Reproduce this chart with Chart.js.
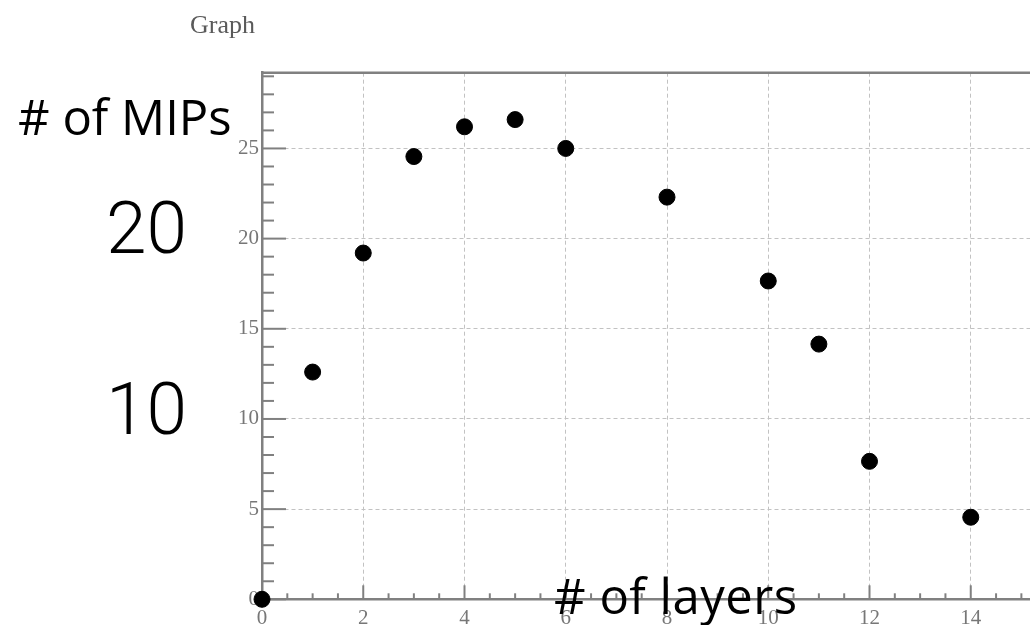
<!DOCTYPE html>
<html>
<head>
<meta charset="utf-8">
<script src="https://cdn.jsdelivr.net/npm/chart.js@4.4.0/dist/chart.umd.js"></script>
<style>
    html, body { margin: 0; padding: 0; background: #fff; overflow: hidden; }
    #wrap { position: relative; width: 1030px; height: 625px; overflow: hidden; }
    #chart { position: absolute; left: 0; top: 0; }
    .note { position: absolute; line-height: 1; white-space: nowrap; color: #000; }
    .big { font-family: "Open Sans", sans-serif; font-size: 49px; }
    .num { font-family: Roboto, "Liberation Sans", sans-serif; font-weight: 300; font-size: 73px; width: 120px; text-align: right; }
    #graphTitle { position: absolute; left: 190px; top: 12px; font-family: "Liberation Serif", "Times New Roman", serif; font-size: 26px; color: #5a5a5a; line-height: 1; }
</style>
</head>
<body>
<div id="wrap">
    <!-- plot runs off the right edge, as in the original screenshot -->
    <canvas id="chart" width="1040" height="625"></canvas>
    <div id="graphTitle">Graph</div>
    <div class="note big" style="left:18px; top:92px;"># of MIPs</div>
    <div class="note num" style="left:67px; top:192px;">20</div>
    <div class="note num" style="left:67px; top:373px;">10</div>
    <div class="note big" style="left:554px; top:571px; letter-spacing:0.5px;"># of layers</div>
</div>
<script>
// Data
const layers = [0, 1, 2, 3, 4, 5, 6, 8, 10, 11, 12, 14];
const mips = [0, 12.6, 19.2, 24.55, 26.2, 26.6, 25.0, 22.3, 17.65, 14.15, 7.65, 4.55];

// Axis ticks
const xTickLabels = [0, 2, 4, 6, 8, 10, 12, 14];
const yTickLabels = [0, 5, 10, 15, 20, 25];
const xMinorStep = 0.5;
const yMinorStep = 1;
const xRange = [0, 15.19];
const yRange = [0, 29.2];

const axisGray = '#808080';
const labelGray = '#777';

// ROOT style ticks drawn inside the frame, plus the top frame line
const frameTicks = {
    id: 'frameTicks',
    beforeDatasetsDraw(chart) {
        const { ctx, chartArea, scales } = chart;
        const xs = scales.x, ys = scales.y;
        ctx.save();
        ctx.strokeStyle = axisGray;
        ctx.lineWidth = 2;

        // y ticks
        for (let v = yRange[0]; v <= yRange[1]; v += yMinorStep) {
            const y = ys.getPixelForValue(v);
            const len = yTickLabels.includes(v) ? 24 : 12;
            ctx.beginPath();
            ctx.moveTo(chartArea.left, y);
            ctx.lineTo(chartArea.left + len, y);
            ctx.stroke();
        }
        // x ticks
        for (let v = xRange[0]; v <= xRange[1]; v += xMinorStep) {
            const x = xs.getPixelForValue(v);
            const len = xTickLabels.includes(v) ? 14 : 6;
            ctx.beginPath();
            ctx.moveTo(x, chartArea.bottom);
            ctx.lineTo(x, chartArea.bottom - len);
            ctx.stroke();
        }

        // top frame
        ctx.lineWidth = 2.5;
        ctx.beginPath();
        ctx.moveTo(chartArea.left, chartArea.top);
        ctx.lineTo(chartArea.right, chartArea.top);
        ctx.stroke();
        ctx.restore();
    }
};

const tickFont = { family: '"Liberation Serif", "Times New Roman", serif', size: 21 };

new Chart(document.getElementById('chart'), {
    type: 'scatter',
    data: {
        datasets: [{
            label: 'Graph',
            data: layers.map((x, i) => ({ x: x, y: mips[i] })),
            backgroundColor: '#000',
            borderColor: '#000',
            pointRadius: 8,
            pointHoverRadius: 8,
            clip: false
        }]
    },
    options: {
        responsive: false,
        animation: false,
        layout: { padding: { top: 72.7, left: 0, right: 0, bottom: 0 } },
        plugins: {
            legend: { display: false },
            tooltip: { enabled: false },
            title: { display: false }
        },
        scales: {
            x: {
                type: 'linear',
                min: xRange[0],
                max: xRange[1],
                afterBuildTicks: (scale) => { scale.ticks = xTickLabels.map(v => ({ value: v })); },
                afterFit: (scale) => {
                    scale.height = 25.7;
                    scale.paddingLeft = 0;
                    scale.paddingRight = 0;
                },
                grid: {
                    drawTicks: false,
                    lineWidth: 1,
                    color: (c) => (c.tick && c.tick.value === 0) ? 'rgba(0,0,0,0)' : '#c2c2c2'
                },
                border: { display: true, color: axisGray, width: 2.5, dash: [4, 3] },
                ticks: {
                    color: labelGray,
                    font: tickFont,
                    padding: 7,
                    maxRotation: 0,
                    autoSkip: false
                }
            },
            y: {
                type: 'linear',
                min: yRange[0],
                max: yRange[1],
                afterBuildTicks: (scale) => { scale.ticks = yTickLabels.map(v => ({ value: v })); },
                afterFit: (scale) => {
                    scale.width = 262;
                    scale.paddingTop = 0;
                    scale.paddingBottom = 0;
                },
                grid: {
                    drawTicks: false,
                    lineWidth: 1,
                    color: (c) => (c.tick && c.tick.value === 0) ? 'rgba(0,0,0,0)' : '#c2c2c2'
                },
                border: { display: true, color: axisGray, width: 2.5, dash: [4, 3] },
                ticks: {
                    color: labelGray,
                    font: tickFont,
                    padding: 3,
                    autoSkip: false
                }
            }
        }
    },
    plugins: [frameTicks]
});
</script>
</body>
</html>
